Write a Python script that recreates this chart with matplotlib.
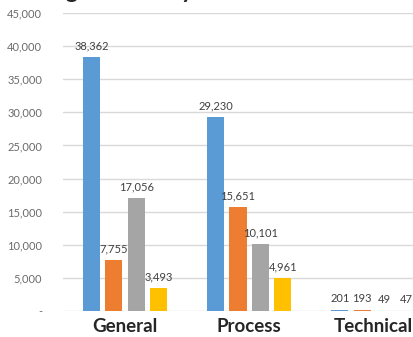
import matplotlib
matplotlib.use("Agg")
import matplotlib.pyplot as plt
import numpy as np

categories = ["General", "Process", "Technical"]
series_a = [38362, 29230, 201]
series_b = [7755, 15651, 193]
series_c = [17056, 10101, 49]
series_d = [3493, 4961, 47]
colors = ["#5B9BD5", "#ED7D31", "#A5A5A5", "#FFC000"]
yticks = [0, 5000, 10000, 15000, 20000, 25000, 30000, 35000, 40000, 45000]

plt.rcParams['font.family'] = ['Lato', 'DejaVu Sans']

fig = plt.figure(figsize=(4.13, 3.37), dpi=100)
ax = fig.add_axes([63 / 413, 1 - 311 / 337, 1 - 63 / 413, (311 - 13) / 337])

x = np.arange(len(categories))
width = 0.137
step = 0.18
for i, (vals, col) in enumerate(zip([series_a, series_b, series_c, series_d], colors)):
    pos = x + (i - 1.5) * step
    bars = ax.bar(pos, vals, width, color=col, zorder=3)
    for b, v in zip(bars, vals):
        ax.annotate(f"{v:,}", (b.get_x() + b.get_width() / 2, v),
                    xytext=(0, 4), textcoords="offset points",
                    ha="center", va="bottom", fontsize=8, color="#404040")

ax.set_ylim(0, 45000)
ax.set_xlim(-0.5, 2.32)
ax.set_yticks(yticks)
ax.set_yticklabels(["-" if t == 0 else f"{t:,}" for t in yticks])
ax.tick_params(axis="y", length=0, pad=15, labelsize=8, labelcolor="#6b6b6b")
ax.set_xticks(x)
ax.set_xticklabels(categories, fontsize=13.5, fontweight="bold", color="#262626")
ax.tick_params(axis="x", length=0, pad=5)
ax.grid(axis="y", color="#D9D9D9", linewidth=1, zorder=0)
for s in ax.spines.values():
    s.set_visible(False)

fig.text(0.0, 1 + 1.5 / 337, "Findings Summary", fontsize=17, fontweight="bold",
         color="#262626", va="baseline", ha="left")

fig.savefig("out.png", dpi=100)
